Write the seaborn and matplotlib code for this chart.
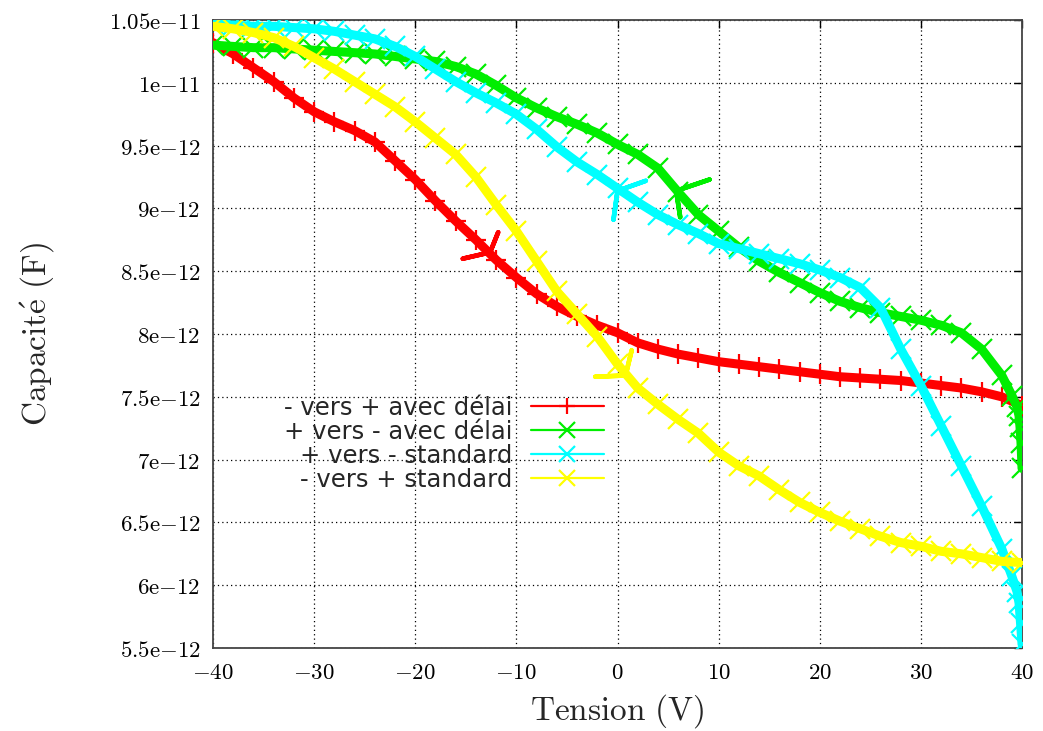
import matplotlib
matplotlib.use("Agg")
import matplotlib.pyplot as plt
import seaborn as sns
import pandas as pd
from matplotlib.lines import Line2D

# ---------------- data (capacitance in pF, tension in V) ----------------
series_names = ["- vers + avec délai", "+ vers - avec délai",
                "+ vers - standard", "- vers + standard"]
series_colors = ["#ff0000", "#00ee00", "#00ffff", "#ffff00"]
series_markers = ["+", "x", "x", "x"]

tension_grid = list(range(-40, 41, 2))

red_x = tension_grid
red_c = [10.32, 10.23, 10.12, 10.01, 9.88, 9.77, 9.69, 9.62, 9.53, 9.38,
         9.23, 9.06, 8.90, 8.75, 8.59, 8.45, 8.32, 8.22, 8.14, 8.07,
         8.01, 7.93, 7.88, 7.84, 7.81, 7.78, 7.76, 7.74, 7.72, 7.70,
         7.68, 7.66, 7.65, 7.64, 7.63, 7.61, 7.59, 7.57, 7.54, 7.50, 7.43]

green_x = tension_grid[:-1] + [39, 39.5, 39.7, 39.8, 39.9, 40]
green_c = [10.30, 10.29, 10.28, 10.28, 10.27, 10.26, 10.25, 10.24, 10.23, 10.21,
           10.19, 10.17, 10.13, 10.07, 9.98, 9.88, 9.80, 9.73, 9.67, 9.60,
           9.51, 9.43, 9.32, 9.13, 8.95, 8.82, 8.69, 8.58, 8.49, 8.41,
           8.33, 8.26, 8.21, 8.17, 8.14, 8.11, 8.07, 8.01, 7.88, 7.67,
           7.51, 7.42, 7.35, 7.26, 7.13, 6.93]

cyan_x = tension_grid[:-1] + [39, 39.5, 39.7, 39.85, 40]
cyan_c = [10.47, 10.46, 10.45, 10.45, 10.44, 10.43, 10.41, 10.38, 10.35, 10.29,
          10.21, 10.11, 10.01, 9.92, 9.84, 9.75, 9.63, 9.49, 9.37, 9.27,
          9.16, 9.05, 8.95, 8.87, 8.80, 8.72, 8.68, 8.64, 8.60, 8.56,
          8.51, 8.45, 8.37, 8.21, 7.88, 7.59, 7.27, 6.95, 6.63, 6.29,
          6.07, 5.95, 5.86, 5.70, 5.53]

yellow_x = tension_grid
yellow_c = [10.45, 10.43, 10.40, 10.36, 10.29, 10.20, 10.11, 10.01, 9.91, 9.81,
            9.69, 9.56, 9.43, 9.25, 9.03, 8.82, 8.58, 8.34, 8.16, 7.98,
            7.76, 7.57, 7.44, 7.32, 7.21, 7.06, 6.95, 6.87, 6.76, 6.66,
            6.58, 6.51, 6.45, 6.39, 6.34, 6.31, 6.27, 6.25, 6.22, 6.19, 6.18]

# measurement glitches (short spikes drawn by the connecting line)
red_spike_x = [-12.6, -15.3, -12.6, -11.8, -12.6]
red_spike_c = [8.65, 8.60, 8.65, 8.81, 8.65]
green_spike_x = [5.8, 6.2, 5.8, 9.1, 5.8]
green_spike_c = [9.14, 8.93, 9.14, 9.23, 9.14]
cyan_spike_x = [0.0, -0.4, 0.0, 2.8, 0.0]
cyan_spike_c = [9.14, 8.91, 9.14, 9.22, 9.14]
yellow_spike_x = [0.8, -2.2, 0.8, 1.4, 0.8]
yellow_spike_c = [7.67, 7.66, 7.67, 7.87, 7.67]

x_ticks = [-40, -30, -20, -10, 0, 10, 20, 30, 40]
y_ticks_pf = [5.5, 6.0, 6.5, 7.0, 7.5, 8.0, 8.5, 9.0, 9.5, 10.0, 10.5]
y_tick_labels = ["5.5e-12", "6e-12", "6.5e-12", "7e-12", "7.5e-12", "8e-12",
                 "8.5e-12", "9e-12", "9.5e-12", "1e-11", "1.05e-11"]

# ---------------- plotting ----------------
sns.set_style("white")
plt.rcParams["mathtext.fontset"] = "cm"
plt.rcParams["font.family"] = ["DejaVu Sans"]

fig = plt.figure(figsize=(10.43, 7.31), dpi=100)
ax = fig.add_axes([0.2042, 0.1135, 0.7757, 0.8591])

main_data = [(red_x, red_c), (green_x, green_c), (cyan_x, cyan_c), (yellow_x, yellow_c)]
spike_data = [(red_spike_x, red_spike_c), (green_spike_x, green_spike_c),
              (cyan_spike_x, cyan_spike_c), (yellow_spike_x, yellow_spike_c)]

for (xs, cs), (sx, sc), col, mk, name in zip(main_data, spike_data, series_colors,
                                             series_markers, series_names):
    df = pd.DataFrame({"Tension": xs, "C": [c * 1e-12 for c in cs]})
    sns.lineplot(data=df, x="Tension", y="C", ax=ax, color=col, sort=False,
                 estimator=None, linewidth=6.5, marker=mk, markersize=14,
                 markeredgewidth=1.6, markeredgecolor=col, legend=False, zorder=3)
    dfs = pd.DataFrame({"Tension": sx, "C": [c * 1e-12 for c in sc]})
    sns.lineplot(data=dfs, x="Tension", y="C", ax=ax, color=col, sort=False,
                 estimator=None, linewidth=3.3, legend=False, zorder=3,
                 solid_capstyle="round")

ax.set_xlim(-40, 40)
ax.set_ylim(5.5e-12, 10.5e-12)
ax.set_xticks(x_ticks)
ax.set_xticklabels([r"$%d$" % v for v in x_ticks])
ax.set_yticks([v * 1e-12 for v in y_ticks_pf])


def mt(s):
    if "e-" in s:
        a, b = s.split("e-")
        return r"$%s\mathrm{e}{-}%s$" % (a, b)
    return r"$%s$" % s


ax.set_yticklabels([mt(s) for s in y_tick_labels])
ax.tick_params(axis="both", direction="in", length=6, width=1, top=True,
               right=True, labelsize=16.5, pad=9, colors="black")
ax.grid(True, color="black", linestyle=(0, (1, 2.5)), linewidth=0.9, zorder=0)
ax.set_axisbelow(True)
for sp in ax.spines.values():
    sp.set_color("#444444")
    sp.set_linewidth(1.3)

ax.set_xlabel(r"$\mathrm{Tension\ (V)}$", fontsize=24, labelpad=6)
ax.set_ylabel(r"$\mathrm{Capacit\acute{e}\ (F)}$", fontsize=24, labelpad=38)

handles = [Line2D([0], [0], color=c, lw=1.6, marker=m, markersize=11,
                  markeredgewidth=1.6) for c, m in zip(series_colors, series_markers)]
ax.legend(handles, series_names, loc="upper right", bbox_to_anchor=(0.483, 0.402),
          frameon=False, markerfirst=False, fontsize=17.5, handlelength=3.0,
          handletextpad=0.75, labelspacing=0.0, borderpad=0, borderaxespad=0)

fig.savefig("out.png", dpi=100)
